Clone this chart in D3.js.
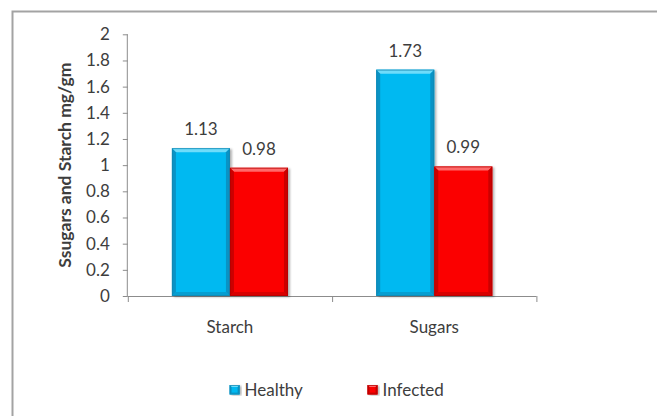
<!DOCTYPE html>
<html>
<head>
<meta charset="utf-8">
<script src="https://cdn.jsdelivr.net/npm/d3@7"></script>
<style>
  html, body { margin: 0; padding: 0; background: #ffffff; }
  svg { display: block; }
  text { font-family: Lato, "Open Sans", sans-serif; fill: #3d3d3d; }
</style>
</head>
<body>
<svg id="chart" width="657" height="416"></svg>
<script>
// Carbohydrate content of healthy vs infected tissue
const categories = ["Starch", "Sugars"];
const seriesNames = ["Healthy", "Infected"];
const healthy = [1.13, 1.73];
const infected = [0.98, 0.99];
const yTicks = [0, 0.2, 0.4, 0.6, 0.8, 1, 1.2, 1.4, 1.6, 1.8, 2];
const yTitle = "Ssugars and Starch mg/gm";

const seriesValues = [healthy, infected];
const palette = {
  Healthy:  { base: "#00b9f1", light: "#6fdcfa", dark: "#0a8cbd", edge: "#1583ad" },
  Infected: { base: "#fb0000", light: "#ff6a6a", dark: "#c20000", edge: "#b10000" }
};

const svg = d3.select("#chart");
const W = 657, H = 416;
const fontSize = 17;

// chart frame (open to the right and bottom)
svg.append("rect").attr("x", 0).attr("y", 0).attr("width", W).attr("height", H).attr("fill", "#fff");
svg.append("path")
  .attr("d", `M12.5,${H} L12.5,11.5 L${W},11.5`)
  .attr("fill", "none").attr("stroke", "#a3a3a3").attr("stroke-width", 2);

const plot = { left: 127.8, right: 536.4, top: 34.3, bottom: 296 };

const y = d3.scaleLinear().domain([0, 2]).range([plot.bottom, plot.top]);
const x0 = d3.scaleBand().domain(categories).range([plot.left, plot.right]).padding(0);
const x1 = d3.scaleBand().domain(seriesNames).range([0, x0.bandwidth()])
  .paddingInner(0).paddingOuter(0.76);

const defs = svg.append("defs");
const shadow = defs.append("filter").attr("id", "shadow")
  .attr("x", "-20%").attr("y", "-10%").attr("width", "140%").attr("height", "120%");
shadow.append("feDropShadow").attr("dx", 2).attr("dy", 1).attr("stdDeviation", 1.2)
  .attr("flood-color", "#000").attr("flood-opacity", 0.3);

// bevelled bar: flat face with a lighter top edge and darker sides/bottom
function bevelBar(g, bx, by, bw, bh, col, b) {
  const x2 = bx + bw, y2 = by + bh;
  g.append("rect").attr("x", bx).attr("y", by).attr("width", bw).attr("height", bh)
    .attr("fill", col.base).attr("filter", "url(#shadow)");
  const poly = (pts, fill, op) => g.append("polygon")
    .attr("points", pts.map(p => p.join(",")).join(" ")).attr("fill", fill).attr("opacity", op);
  poly([[bx, by], [x2, by], [x2 - b, by + b], [bx + b, by + b]], col.light, 1);
  poly([[bx, by], [bx + b, by + b], [bx + b, y2 - b], [bx, y2]], col.dark, 0.85);
  poly([[x2, by], [x2, y2], [x2 - b, y2 - b], [x2 - b, by + b]], col.dark, 0.85);
  poly([[bx, y2], [bx + b, y2 - b], [x2 - b, y2 - b], [x2, y2]], col.dark, 0.6);
  g.append("rect").attr("x", bx + 0.5).attr("y", by + 0.5).attr("width", bw - 1).attr("height", bh - 1)
    .attr("fill", "none").attr("stroke", col.edge).attr("stroke-width", 1).attr("opacity", 0.7);
}

// axes
const axisColor = "#8c8c8c";
const yAxis = svg.append("g").attr("transform", `translate(${plot.left},0)`)
  .call(d3.axisLeft(y).tickValues(yTicks).tickSize(5).tickPadding(13).tickFormat(d3.format("")));
yAxis.select(".domain").attr("stroke", axisColor).attr("d", `M-0.5,${plot.bottom}V${plot.top}`);
yAxis.selectAll(".tick line").attr("stroke", axisColor);
yAxis.selectAll(".tick text").attr("font-size", fontSize).attr("fill", "#3d3d3d")
  .style("font-family", "Lato, sans-serif");

// category axis with ticks on group boundaries
const xg = svg.append("g");
xg.append("line").attr("x1", plot.left).attr("x2", plot.right)
  .attr("y1", plot.bottom + 0.5).attr("y2", plot.bottom + 0.5).attr("stroke", axisColor);
const bounds = categories.map(c => x0(c)).concat([x0(categories[categories.length - 1]) + x0.bandwidth()]);
xg.selectAll("line.bt").data(bounds).join("line").attr("class", "bt")
  .attr("x1", d => d + 0.5).attr("x2", d => d + 0.5)
  .attr("y1", plot.bottom).attr("y2", plot.bottom + 6).attr("stroke", axisColor);
xg.selectAll("text.cat").data(categories).join("text").attr("class", "cat")
  .attr("x", d => x0(d) + x0.bandwidth() / 2).attr("y", plot.bottom + 37)
  .attr("text-anchor", "middle").attr("font-size", fontSize).text(d => d);

// bars and value labels
const bars = svg.append("g");
categories.forEach((c, ci) => {
  seriesNames.forEach((s, si) => {
    const v = seriesValues[si][ci];
    const bx = x0(c) + x1(s);
    const bw = x1.bandwidth();
    const by = y(v);
    bevelBar(bars, bx, by, bw, y(0) - by, palette[s], 4);
    bars.append("text").attr("x", bx + bw / 2).attr("y", by - 13)
      .attr("text-anchor", "middle").attr("font-size", fontSize).text(d3.format(".2f")(v));
  });
});

// y-axis title
svg.append("text")
  .attr("transform", `translate(71,${(plot.top + plot.bottom) / 2}) rotate(-90)`)
  .attr("text-anchor", "middle").attr("font-size", 17.5).attr("font-weight", "bold")
  .attr("fill", "#1a1a1a").text(yTitle);

// legend
const legend = svg.append("g");
const legendX = [229.6, 367.5];
seriesNames.forEach((s, i) => {
  const g = legend.append("g").attr("transform", `translate(${legendX[i]},385)`);
  bevelBar(g, 0, 0, 10, 9.5, palette[s], 2);
  g.append("text").attr("x", 15).attr("y", 10.5).attr("font-size", fontSize).text(s);
});
</script>
</body>
</html>
